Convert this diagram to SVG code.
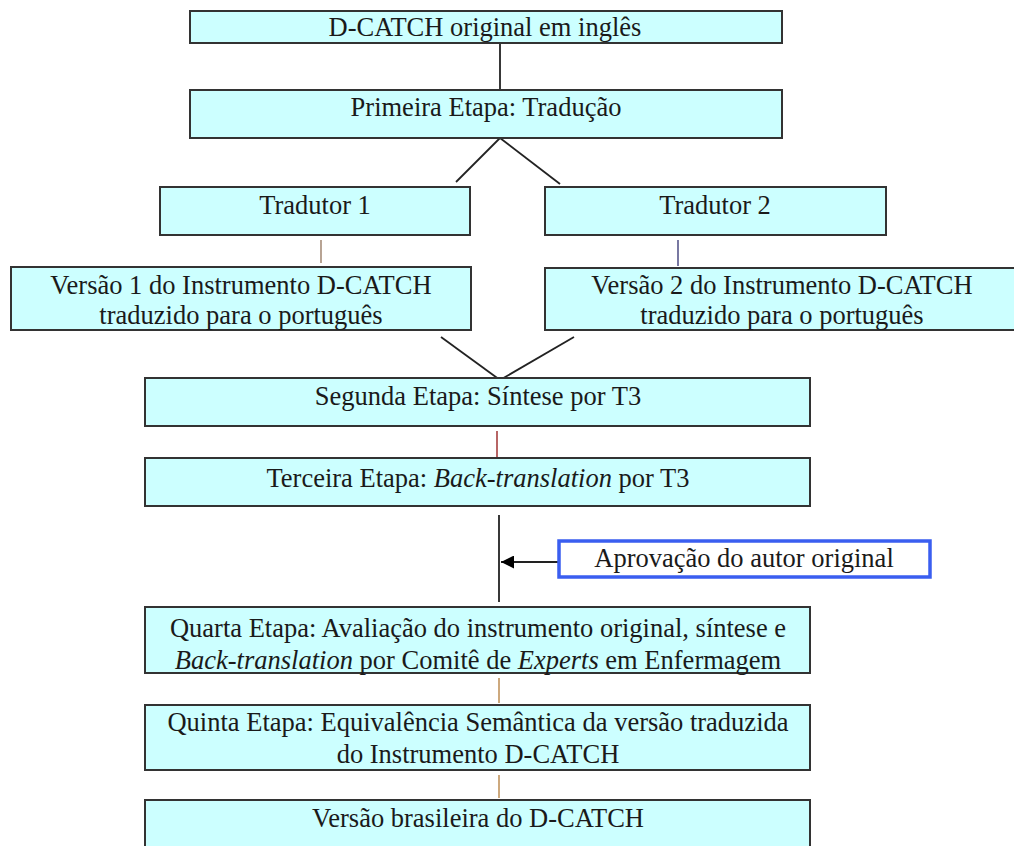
<svg xmlns="http://www.w3.org/2000/svg" width="1014" height="846" viewBox="0 0 1014 846">
<style>
.box{fill:#ccffff;stroke:#333;stroke-width:2}
.t{font-family:"Liberation Serif","Times New Roman",serif;font-size:26.5px;fill:#1a1a1a;text-anchor:middle}
.i{font-style:italic}
.c{fill:none;stroke:#222;stroke-width:1.8}
</style>
<defs>
<marker id="ah" viewBox="0 0 10 10" refX="10" refY="5" markerWidth="15" markerHeight="13" markerUnits="userSpaceOnUse" orient="auto">
<path d="M0,0 L10,5 L0,10 Z" fill="#000"/>
</marker>
</defs>
<rect width="1014" height="846" fill="#fff"/>
<g id="connectors">
<line class="c" x1="500" y1="43" x2="500" y2="91"/>
<line class="c" x1="500" y1="138" x2="456" y2="182"/>
<line class="c" x1="500" y1="138" x2="560" y2="184"/>
<line class="c" x1="321" y1="240" x2="321" y2="263" style="stroke:#b09a88"/>
<line class="c" x1="678" y1="240" x2="678" y2="266" style="stroke:#6a6a98"/>
<line class="c" x1="441" y1="337" x2="500" y2="380"/>
<line class="c" x1="574" y1="337" x2="500" y2="380"/>
<line class="c" x1="497" y1="431" x2="497" y2="458" style="stroke:#b05555"/>
<line class="c" x1="499" y1="515" x2="499" y2="602"/>
<line class="c" x1="558" y1="562" x2="501" y2="562" marker-end="url(#ah)"/>
<line class="c" x1="499" y1="678" x2="499" y2="703" style="stroke:#c8a070"/>
<line class="c" x1="499" y1="775" x2="499" y2="798" style="stroke:#c8a070"/>
</g>
<g id="n1"><rect class="box" x="190" y="11" width="592" height="32"/><text class="t" x="485" y="36">D-CATCH original em inglês</text></g>
<g id="n2"><rect class="box" x="190" y="90" width="592" height="48"/><text class="t" x="486" y="116">Primeira Etapa: Tradução</text></g>
<g id="n3"><rect class="box" x="160" y="187" width="310" height="48"/><text class="t" x="315" y="214">Tradutor 1</text></g>
<g id="n4"><rect class="box" x="545" y="187" width="341" height="48"/><text class="t" x="715" y="214">Tradutor 2</text></g>
<g id="n5"><rect class="box" x="11" y="267" width="460" height="63"/><text class="t" x="241" y="294">Versão 1 do Instrumento D-CATCH</text><text class="t" x="241" y="324">traduzido para o português</text></g>
<g id="n6"><rect class="box" x="545" y="268" width="474" height="62"/><text class="t" x="782" y="294">Versão 2 do Instrumento D-CATCH</text><text class="t" x="782" y="324">traduzido para o português</text></g>
<g id="n7"><rect class="box" x="145" y="378" width="665" height="48"/><text class="t" x="478" y="405">Segunda Etapa: Síntese por T3</text></g>
<g id="n8"><rect class="box" x="145" y="458" width="665" height="48"/><text class="t" x="478" y="487">Terceira Etapa: <tspan class="i">Back-translation</tspan> por T3</text></g>
<g id="n9"><rect x="559" y="541" width="371" height="36" fill="#fff" stroke="#3a5ef0" stroke-width="3.5"/><text class="t" x="744" y="567">Aprovação do autor original</text></g>
<g id="n10"><rect class="box" x="145" y="607" width="665" height="66"/><text class="t" x="478" y="637">Quarta Etapa: Avaliação do instrumento original, síntese e</text><text class="t" x="478" y="669"><tspan class="i">Back-translation</tspan> por Comitê de <tspan class="i">Experts</tspan> em Enfermagem</text></g>
<g id="n11"><rect class="box" x="145" y="705" width="665" height="65"/><text class="t" x="478" y="731">Quinta Etapa: Equivalência Semântica da versão traduzida</text><text class="t" x="478" y="763">do Instrumento D-CATCH</text></g>
<g id="n12"><rect class="box" x="145" y="800" width="665" height="60"/><text class="t" x="478" y="827">Versão brasileira do D-CATCH</text></g>
</svg>
